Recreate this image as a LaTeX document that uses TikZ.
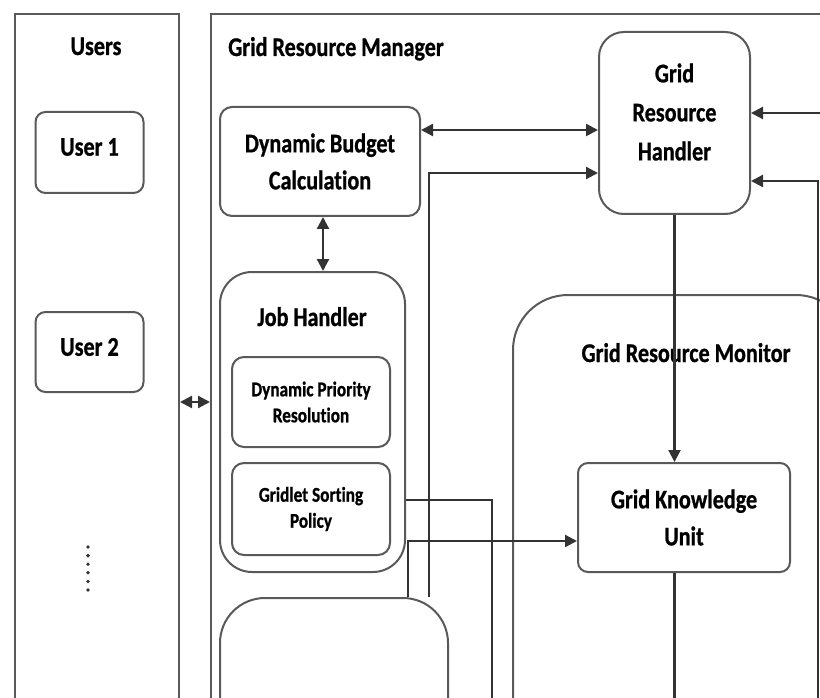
\documentclass[tikz,border=0pt]{standalone}
\usepackage{fontspec}
\setmainfont[FakeStretch=0.82, Ligatures=CommonOff, BoldFeatures={FakeBold=0.8}]{Carlito}
\usetikzlibrary{arrows.meta,backgrounds}
\begin{document}
\begin{tikzpicture}[x=1pt,y=-1pt,line width=2pt,
  big/.style={font=\bfseries\fontsize{27}{37}\selectfont},
  small/.style={font=\bfseries\fontsize{21}{26}\selectfont},
  box/.style={draw=black!65, fill=white, line width=2pt, rounded corners=#1, align=center, inner sep=0pt},
  frame/.style={draw=black!65, line width=2pt, rounded corners=#1, inner sep=0pt, anchor=north west},
  conn/.style={draw=black!80, line width=2.2pt},
  arr/.style={conn, -{Triangle[length=12pt,width=12pt]}},
  dbl/.style={conn, {Triangle[length=12pt,width=12pt]}-{Triangle[length=12pt,width=12pt]}},
  title/.style={big, anchor=base, inner sep=0pt},
  lbl/.style={big, align=center, inner sep=0pt}]
\useasboundingbox (0,0) rectangle (820,698);
\clip (0,0) rectangle (820,698);

% inner boxes
\node[box=10, minimum width=108, minimum height=81] (user1) at (89.5,152.5) {};
\node[lbl] (user1l) at (89.5,147) {User 1};
\node[box=10, minimum width=108, minimum height=80] (user2) at (89.5,352) {};
\node[lbl] (user2l) at (89.5,347) {User 2};
\node[box=12, big, minimum width=200, minimum height=109] (dbc) at (320,161.5) {Dynamic Budget\\Calculation};
\node[box=32, minimum width=185, minimum height=300] (jh) at (312.5,422) {};
\node[title] (jhl) at (312,326) {Job Handler};
\node[box=12, small, minimum width=158, minimum height=90] (dpr) at (311,402) {Dynamic Priority\\Resolution};
\node[box=12, small, minimum width=158, minimum height=92] (gsp) at (311,509) {Gridlet Sorting\\Policy};
\node[box=25, minimum width=151, minimum height=182] (grh) at (674.5,123) {};
\node[lbl, font=\bfseries\fontsize{27}{39}\selectfont] (grhl) at (674.5,112) {Grid\\Resource\\Handler};
\node[box=10, big, minimum width=212, minimum height=109] (gku) at (684,517.5) {Grid Knowledge\\Unit};
\node[box=45, minimum width=228, minimum height=162] (bot) at (334,679) {};

% free ends beyond the picture
\coordinate (jhdown) at (492,760);
\coordinate (gkudown) at (674.5,760);
\coordinate (rin1) at (830,113);
\coordinate (rin2) at (818,760);

\begin{scope}[on background layer, line width=2pt]
  \node[frame=0, minimum width=164, minimum height=747] (users) at (14,13) {};
  \node[frame=0, minimum width=690, minimum height=747] (grm) at (210,13) {};
  \node[frame=55, minimum width=338, minimum height=466] (mon) at (512,294) {};
  \node[title] (userst) at (96,55) {Users};
  \node[big, anchor=base west, inner sep=0pt] (grmt) at (228,56) {Grid Resource Manager};
  \node[title] (mont) at (686,362) {Grid Resource Monitor};

  \draw[dbl] ([yshift=31.5]dbc.east) -- ([yshift=31.5]dbc.east -| grh.west);
  \draw[arr] ([xshift=-20]bot.north east) |- ([yshift=-50]grh.west);
  \draw[arr] ([xshift=-41]bot.north east) |- ([yshift=-23.5]gku.west);
  \draw[conn] ([yshift=-78]jh.east) -| (jhdown);
  \draw[arr] (grh.south) -- (grh.south |- gku.north);
  \draw[conn] (gku.south -| grh.south) -- (gkudown);
  \draw[arr] (rin1) -- (rin1 -| grh.east);
  \draw[arr] (rin2) |- ([yshift=-58]grh.east);
  \draw[dbl] ([xshift=3]dbc.south) -- ([xshift=3]dbc.south |- jh.north);
  \draw[dbl] (users.east |- dpr) -- (grm.west |- dpr);
\end{scope}

% dots
\foreach \i in {0,...,5} \fill[black!80] (88,547+\i*8.6) circle (1.9);
\end{tikzpicture}
\end{document}
